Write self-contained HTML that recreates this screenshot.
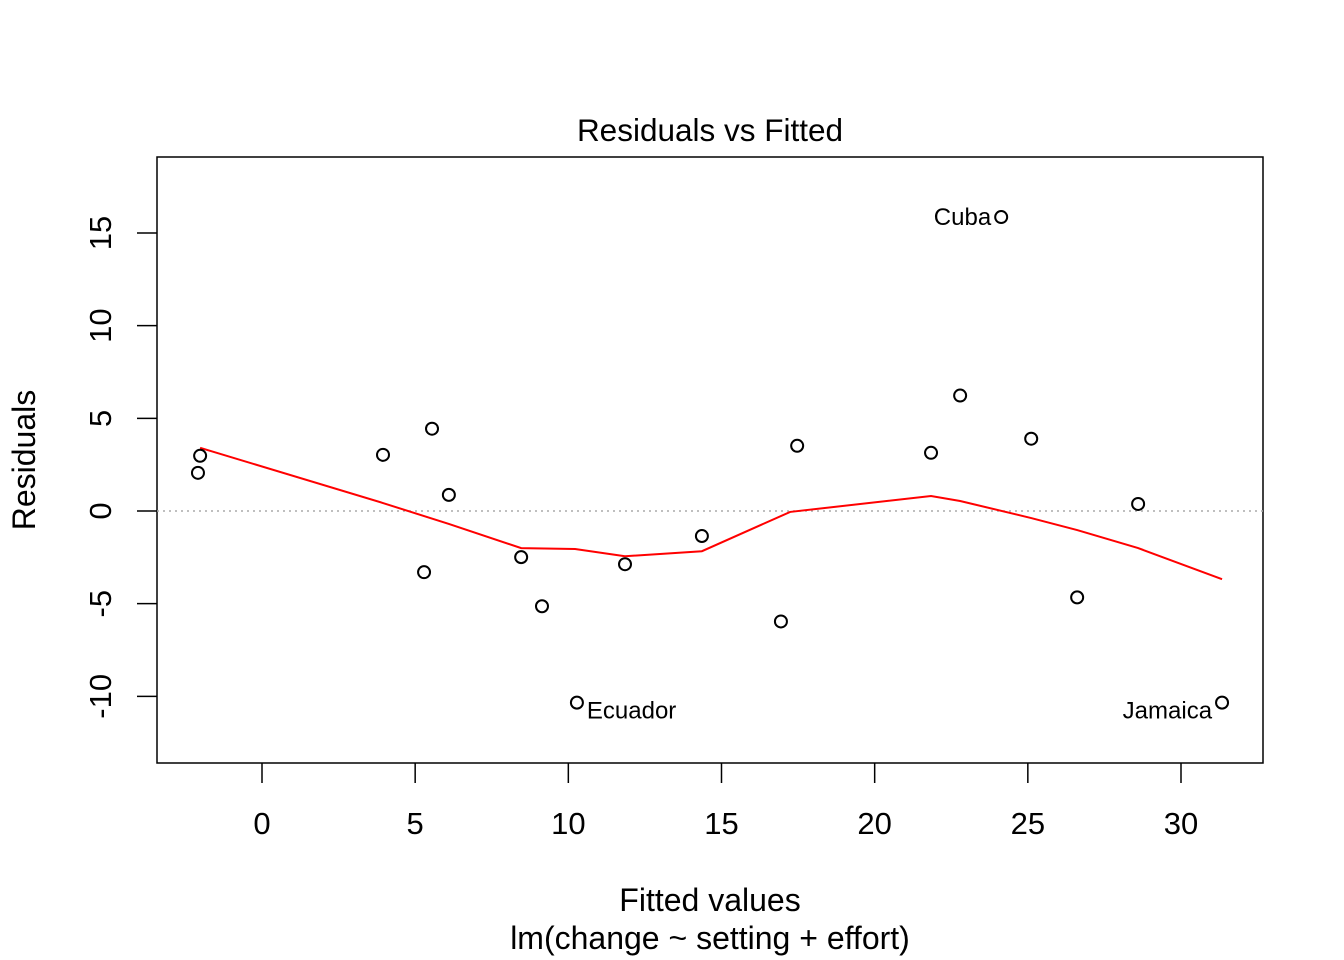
<!DOCTYPE html>
<html><head><meta charset="utf-8"><style>
html,body{margin:0;padding:0;background:#fff;}
svg{display:block;font-family:"Liberation Sans",Arial,sans-serif;}
</style></head><body>
<svg id="chart" width="1344" height="960" viewBox="0 0 1344 960">
<rect x="0" y="0" width="1344" height="960" fill="#fff"/>
<text x="710" y="141" font-size="31.5" text-anchor="middle">Residuals vs Fitted</text>
<rect x="157" y="157" width="1106" height="606" fill="none" stroke="#000" stroke-width="1.5"/>
<text x="710" y="911" font-size="32" text-anchor="middle">Fitted values</text>
<text x="710" y="949" font-size="32" text-anchor="middle">lm(change ~ setting + effort)</text>
<text transform="translate(35,460) rotate(-90)" font-size="32" text-anchor="middle">Residuals</text>
<g id="xaxis"></g>
<g id="yaxis"></g>
<line id="zero" stroke="#aaa" stroke-width="1.5" stroke-dasharray="2,4"/>
<polyline id="smooth" fill="none" stroke="#f00" stroke-width="2"/>
<g id="points"></g>
</svg>
<script>
const fitted = [-2.09,-2.02,3.95,5.55,6.1,5.29,8.46,9.14,10.28,11.85,14.36,16.94,17.47,21.84,22.79,24.13,25.11,26.61,28.6,31.34];
const residuals = [2.06,2.98,3.03,4.44,0.87,-3.30,-2.49,-5.14,-10.34,-2.87,-1.35,-5.96,3.52,3.14,6.23,15.86,3.90,-4.66,0.38,-10.34];
const pointLabels = ["","","","","","","","","Ecuador","","","","","","","Cuba","","","","Jamaica"];
const smoothX = [-2.02,3.95,6.1,8.46,10.22,11.85,14.36,17.24,21.84,22.79,25.11,26.61,28.6,31.34];
const smoothY = [3.41,0.43,-0.70,-2.0,-2.05,-2.44,-2.17,-0.05,0.81,0.54,-0.38,-1.03,-2.0,-3.68];
const xTicks = [0,5,10,15,20,25,30];
const yTicks = [-10,-5,0,5,10,15];
const NS="http://www.w3.org/2000/svg";
const xs = v => 262 + v*(1181-262)/30;
const ys = v => 511 - v*(511-233)/15;
const xg=document.getElementById('xaxis'), yg=document.getElementById('yaxis'), pg=document.getElementById('points');
function mk(tag,attrs,parent){const e=document.createElementNS(NS,tag);for(const k in attrs)e.setAttribute(k,attrs[k]);parent.appendChild(e);return e;}
xTicks.forEach(t=>{
  const l=mk('line',{x1:xs(t),x2:xs(t),y1:763,y2:783,stroke:'#000','stroke-width':1.5},xg);
  
  
  const tx=mk('text',{x:xs(t),y:834,'font-size':31,'text-anchor':'middle'},xg);
  tx.textContent=t;
  
  
});
yTicks.forEach(t=>{
  const l=mk('line',{x1:137,x2:157,y1:ys(t),y2:ys(t),stroke:'#000','stroke-width':1.5},yg);
  
  
  const tx=mk('text',{'font-size':31,'text-anchor':'middle',transform:`translate(111,${ys(t)}) rotate(-90)`},yg);
  tx.textContent=t;
  
  
});
const z=document.getElementById('zero');
z.setAttribute('x1',157);z.setAttribute('x2',1263);z.setAttribute('y1',ys(0));z.setAttribute('y2',ys(0));
document.getElementById('smooth').setAttribute('points',smoothX.map((x,i)=>xs(x)+','+ys(smoothY[i])).join(' '));
fitted.forEach((f,i)=>{
  const c=mk('circle',{cx:xs(f),cy:ys(residuals[i]),r:6,fill:'none',stroke:'#000','stroke-width':2},pg);
  
  
  if(pointLabels[i]){
    const left = xs(f) > 900;
    const tx=mk('text',{x:left?xs(f)-10:xs(f)+10,y:ys(residuals[i])+16,'font-size':24,'text-anchor':left?'end':'start'},pg);
    if(pointLabels[i]==='Cuba'){tx.setAttribute('y',ys(residuals[i])+8);}
    tx.textContent=pointLabels[i];
    
    
  }
});
</script>
</body></html>
